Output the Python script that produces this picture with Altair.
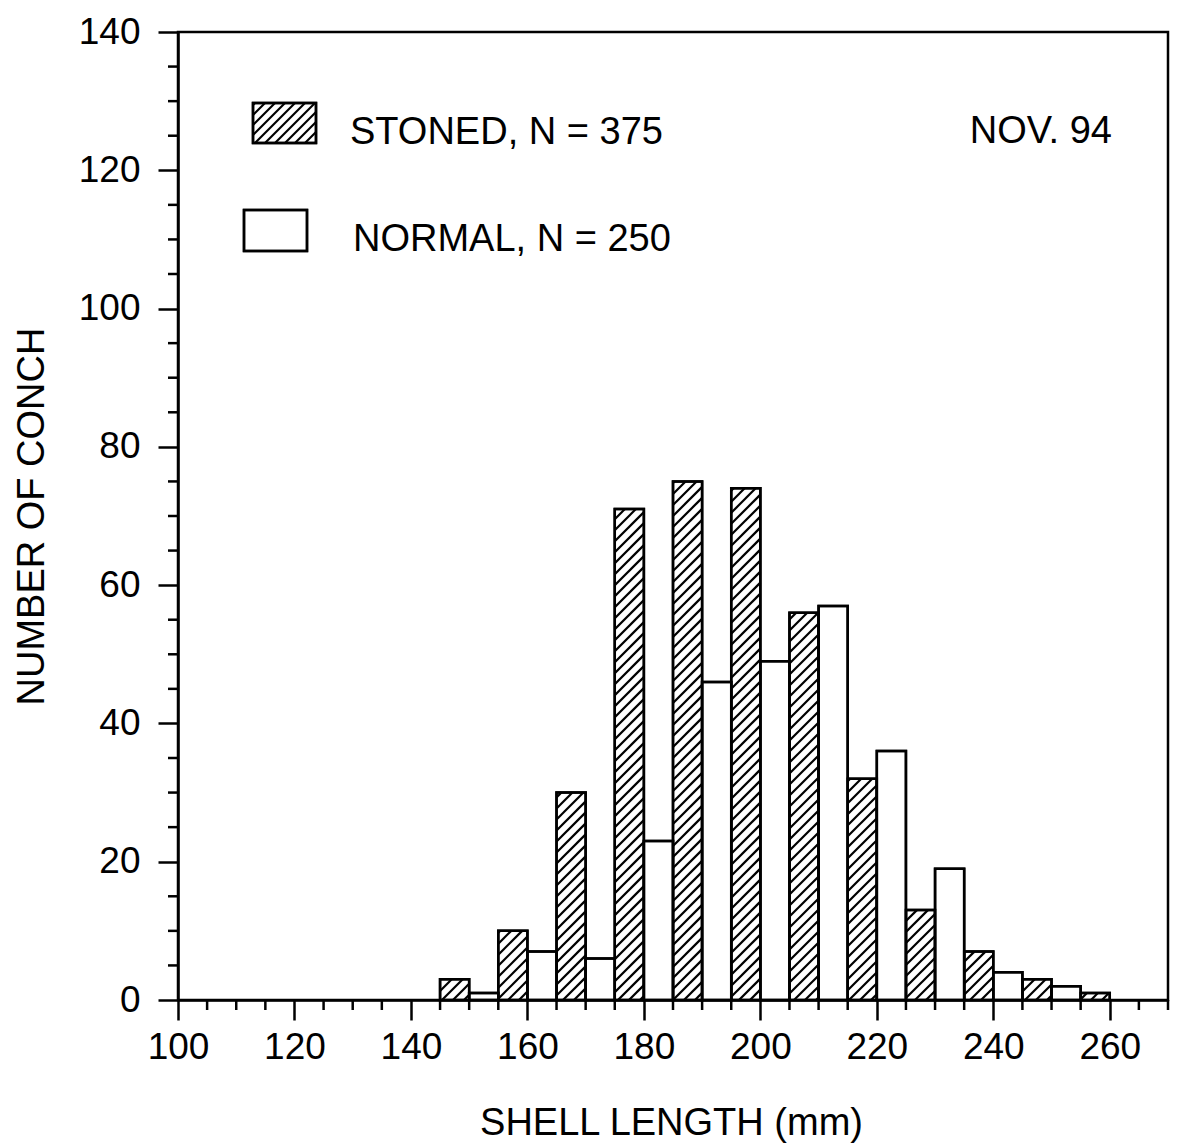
import altair as alt
import pandas as pd
import numpy as np

# ---------------- data ----------------
bin_width = 5
stoned_start = [145, 155, 165, 175, 185, 195, 205, 215, 225, 235, 245, 255]
stoned_counts = [3, 10, 30, 71, 75, 74, 56, 32, 13, 7, 3, 1]
normal_start = [150, 160, 170, 180, 190, 200, 210, 220, 230, 240, 250]
normal_counts = [1, 7, 6, 23, 46, 49, 57, 36, 19, 4, 2]

x_major = [100, 120, 140, 160, 180, 200, 220, 240, 260]
y_major = [0, 20, 40, 60, 80, 100, 120, 140]
x_minor = [v for v in range(105, 271, 5) if v % 20 != 0]
y_minor = [v for v in range(5, 140, 5) if v % 20 != 0]

stoned_label = f"STONED, N = {sum(stoned_counts)}"
normal_label = f"NORMAL, N = {sum(normal_counts)}"
date_label = "NOV. 94"

# ---------------- layout ----------------
W, H = 990, 968
XD = [100, 270]
YD = [0, 140]
kx = W / (XD[1] - XD[0])
ky = H / (YD[1] - YD[0])
FONT = "Liberation Sans"
LW = 2.5
HATCH_D = 11

xs = alt.Scale(domain=XD, nice=False, zero=False)
ys = alt.Scale(domain=YD, nice=False, zero=True)

bars = pd.concat([
    pd.DataFrame({"start": stoned_start, "count": stoned_counts, "group": "stoned"}),
    pd.DataFrame({"start": normal_start, "count": normal_counts, "group": "normal"}),
], ignore_index=True)
bars["end"] = bars["start"] + bin_width
bars["base"] = 0


def hatch_px(a, b, lo, hi, d):
    segs = []
    c = np.floor((lo - b) / d) * d
    while c <= hi - a:
        x_s = max(a, lo - c)
        x_e = min(b, hi - c)
        if x_e - x_s > 0.5:
            segs.append((x_s, x_s + c, x_e, x_e + c))
        c += d
    return segs


def to_dx(px):
    return XD[0] + px / kx


def to_dy(py_up):
    return py_up / ky


hrows = []
for s, n in zip(stoned_start, stoned_counts):
    a = (s - XD[0]) * kx
    b = (s + bin_width - XD[0]) * kx
    for (x1, y1, x2, y2) in hatch_px(a, b, 0, n * ky, HATCH_D):
        hrows.append({"hx": to_dx(x1), "hy": to_dy(y1), "hx2": to_dx(x2), "hy2": to_dy(y2)})

# legend boxes (pixel positions inside plot, y from top)
leg_hatch_box = (75, 71, 138, 111)
leg_white_box = (66, 178, 129, 219)
for (x1, y1, x2, y2) in hatch_px(leg_hatch_box[0], leg_hatch_box[2], H - leg_hatch_box[3], H - leg_hatch_box[1], 10):
    hrows.append({"hx": to_dx(x1), "hy": to_dy(y1), "hx2": to_dx(x2), "hy2": to_dy(y2)})
hatch = pd.DataFrame(hrows)

legend_boxes = pd.DataFrame({
    "lx": [to_dx(leg_hatch_box[0]), to_dx(leg_white_box[0])],
    "lx2": [to_dx(leg_hatch_box[2]), to_dx(leg_white_box[2])],
    "ly": [to_dy(H - leg_hatch_box[3]), to_dy(H - leg_white_box[3])],
    "ly2": [to_dy(H - leg_hatch_box[1]), to_dy(H - leg_white_box[1])],
})

# ---------------- layers ----------------
bar_layer = alt.Chart(bars).mark_rect(fill="white", stroke="black", strokeWidth=LW).encode(
    x=alt.X("start:Q", scale=xs, axis=alt.Axis(
        values=x_major, title="SHELL LENGTH (mm)", labelPadding=9, labelFlush=False,
        titleX=493, titleY=134, titleBaseline="alphabetic", titleAlign="center")),
    x2="end:Q",
    y=alt.Y("count:Q", scale=ys, axis=alt.Axis(
        values=y_major, title="NUMBER OF CONCH", labelPadding=18, labelFlush=False,
        titleX=-135, titleY=H / 2, titleAngle=-90, titleBaseline="alphabetic", titleAlign="center")),
    y2="base:Q",
)

legend_box_layer = alt.Chart(legend_boxes).mark_rect(fill="white", stroke="black", strokeWidth=LW).encode(
    x=alt.X("lx:Q", scale=xs),
    x2="lx2:Q",
    y=alt.Y("ly:Q", scale=ys),
    y2="ly2:Q",
)

hatch_layer = alt.Chart(hatch).mark_rule(color="black", strokeWidth=2.2).encode(
    x=alt.X("hx:Q", scale=xs),
    y=alt.Y("hy:Q", scale=ys),
    x2="hx2:Q",
    y2="hy2:Q",
)

legend_box_outline = alt.Chart(legend_boxes).mark_rect(fillOpacity=0, stroke="black", strokeWidth=LW).encode(
    x=alt.X("lx:Q", scale=xs),
    x2="lx2:Q",
    y=alt.Y("ly:Q", scale=ys),
    y2="ly2:Q",
)

bar_outline = alt.Chart(bars).mark_rect(fillOpacity=0, stroke="black", strokeWidth=LW).encode(
    x=alt.X("start:Q", scale=xs), x2="end:Q",
    y=alt.Y("count:Q", scale=ys), y2="base:Q",
)

text_style = dict(font=FONT, fontSize=38, color="black", baseline="alphabetic")
t1 = alt.Chart(pd.DataFrame({"t": [stoned_label]})).mark_text(align="left", **text_style).encode(
    x=alt.value(172), y=alt.value(112), text="t:N")
t2 = alt.Chart(pd.DataFrame({"t": [normal_label]})).mark_text(align="left", **text_style).encode(
    x=alt.value(175), y=alt.value(219), text="t:N")
t3 = alt.Chart(pd.DataFrame({"t": [date_label]})).mark_text(align="right", **text_style).encode(
    x=alt.value(934), y=alt.value(111), text="t:N")

xminor_layer = alt.Chart(pd.DataFrame({"v": x_minor})).mark_rule(color="black", strokeWidth=LW).encode(
    x=alt.X("v:Q", scale=xs), y=alt.value(H), y2=alt.value(H + 10))
yminor_layer = alt.Chart(pd.DataFrame({"v": y_minor})).mark_rule(color="black", strokeWidth=LW).encode(
    y=alt.Y("v:Q", scale=ys), x=alt.value(0), x2=alt.value(-10))

chart = alt.layer(
    bar_layer, legend_box_layer, hatch_layer, bar_outline, legend_box_outline,
    t1, t2, t3, xminor_layer, yminor_layer
).properties(
    width=W, height=H,
    autosize=alt.AutoSizeParams(type="none"),
    padding={"left": 178, "top": 32, "right": 12, "bottom": 148},
    background="white",
).configure_view(
    stroke="black", strokeWidth=LW
).configure_axis(
    grid=False, format="d",
    tickSize=20, tickWidth=LW, tickColor="black", domainColor="black", domainWidth=LW,
    labelFont=FONT, labelFontSize=37, labelColor="black",
    titleFont=FONT, titleFontSize=38, titleFontWeight="normal", titleColor="black",
)

chart.save("out.html", embed_options={"renderer": "svg", "actions": False})
